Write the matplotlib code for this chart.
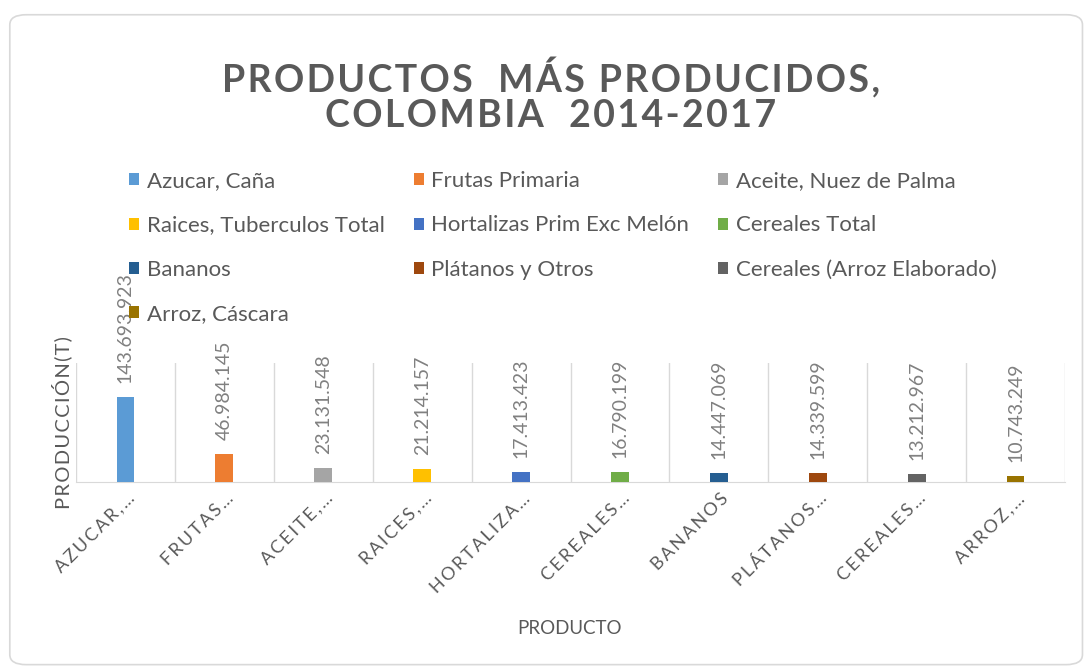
import matplotlib
matplotlib.use("Agg")
import matplotlib.pyplot as plt
import matplotlib.transforms as mtransforms
from matplotlib.patches import FancyBboxPatch

plt.rcParams['font.family'] = ['Lato', 'DejaVu Sans']

# data
products = ['Azucar, Caña', 'Frutas Primaria', 'Aceite, Nuez de Palma',
            'Raices, Tuberculos Total', 'Hortalizas Prim Exc Melón', 'Cereales Total',
            'Bananos', 'Plátanos y Otros', 'Cereales (Arroz Elaborado)', 'Arroz, Cáscara']
tick_labels = ['AZUCAR,…', 'FRUTAS…', 'ACEITE,…', 'RAICES,…', 'HORTALIZA…',
               'CEREALES…', 'BANANOS', 'PLÁTANOS…', 'CEREALES…', 'ARROZ,…']
production = [143693923, 46984145, 23131548, 21214157, 17413423,
              16790199, 14447069, 14339599, 13212967, 10743249]
colors = ['#5B9BD5', '#ED7D31', '#A5A5A5', '#FFC000', '#4472C4',
          '#70AD47', '#255E91', '#9E480E', '#636363', '#997300']

text_gray = '#595959'
grid_gray = '#D9D9D9'


def spaced(s, sep='\u2009'):
    return sep.join(s)


fig = plt.figure(figsize=(10.89, 6.70), dpi=100)
ax = fig.add_axes([0.0698, 0.2806, 0.9082, 0.1776])

x = list(range(len(products)))
bars = ax.bar(x, production, width=0.18, color=colors, zorder=3)

# data labels above each bar
for xi, v in zip(x, production):
    ax.annotate(f'{v:,}'.replace(',', '.'), (xi, v), textcoords='offset pixels',
                xytext=(0, 14), rotation=90, ha='center', va='bottom',
                fontsize=14, color='#808080', annotation_clip=False)

ax.set_xlim(-0.5, len(products) - 0.5)
ax.set_ylim(0, 200e6)

# category separators
for b in range(len(products) + 1):
    ax.axvline(b - 0.5, color=grid_gray, lw=1, zorder=1)

for s in ['top', 'left', 'right']:
    ax.spines[s].set_visible(False)
ax.spines['bottom'].set_color(grid_gray)
ax.set_yticks([])
ax.set_xticks(x)
ax.set_xticklabels([spaced(t) for t in tick_labels], rotation=45, ha='right',
                   va='center', rotation_mode='anchor', fontsize=13, color=text_gray)
ax.tick_params(axis='x', length=0, pad=10)
shift = mtransforms.ScaledTranslation(7 / 100, 0, fig.dpi_scale_trans)
for lbl in ax.get_xticklabels():
    lbl.set_transform(lbl.get_transform() + shift)

ax.set_ylabel(spaced('PRODUCCIÓN(T)', '\u200a'), fontsize=14.5, color=text_gray, labelpad=3)
fig.text(0.523, 1 - 628 / 670, 'PRODUCTO', ha='center', va='center',
         fontsize=13.5, color=text_gray)

# title
fig.text(0.506, 1 - 78 / 670, spaced('PRODUCTOS  MÁS PRODUCIDOS,', '\u200a'),
         ha='center', va='center', fontsize=27, fontweight='bold', color=text_gray)
fig.text(0.506, 1 - 116 / 670, spaced('COLOMBIA  2014-2017', '\u200a'),
         ha='center', va='center', fontsize=27, fontweight='bold', color=text_gray)

# legend, filled row by row in 3 columns
order = [0, 3, 6, 9, 1, 4, 7, 2, 5, 8]
leg = fig.legend([bars[i] for i in order], [products[i] for i in order], ncol=3,
                 loc='upper left', bbox_to_anchor=(0.1185, 1 - 171 / 670),
                 frameon=False, fontsize=16, labelcolor=text_gray,
                 handlelength=0.45, handleheight=0.45, handletextpad=0.35,
                 labelspacing=1.1, columnspacing=1.3, borderaxespad=0, borderpad=0)

# rounded chart border
fig.patches.append(FancyBboxPatch((0.009, 0.008), 0.985, 0.97,
                                  boxstyle='round,pad=0,rounding_size=0.015',
                                  transform=fig.transFigure, fill=False,
                                  edgecolor=grid_gray, lw=1.2))

fig.savefig('out.png', dpi=100)
